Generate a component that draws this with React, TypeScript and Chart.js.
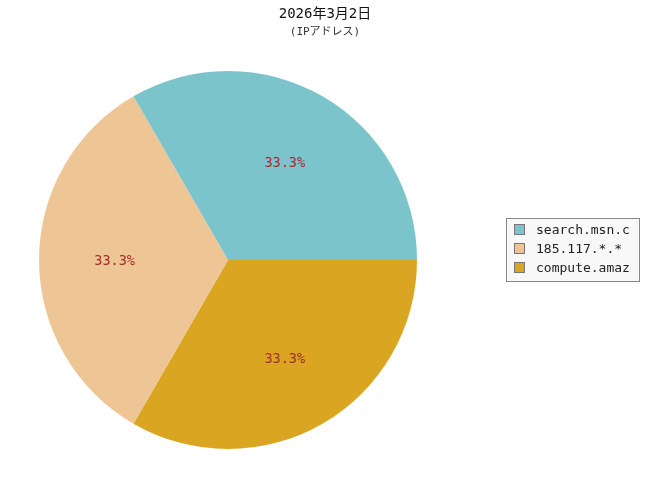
import React, { useEffect, useRef } from 'react';
import { Chart, registerables, layouts } from 'chart.js';

Chart.register(...registerables);

const TITLE = '2026年3月2日';
const SUBTITLE = '(IPアドレス)';
const CATEGORIES = ['search.msn.c', '185.117.*.*', 'compute.amaz'];
const VALUES = [1, 1, 1];
const COLORS = ['#7bc4cc', '#eec695', '#daa520'];

const FONT = '"DejaVu Sans Mono", "Noto Sans CJK JP", monospace';
const LEGEND_W = 194;

function drawLegend(chart: any, box: any) {
  const ctx = chart.ctx as CanvasRenderingContext2D;
  const fx = Math.round(box.left + 50);
  const fw = 134;
  const rowH = 19;
  const fh = 64;
  const fy = Math.round(chart.height / 2 - fh / 2);
  ctx.save();
  ctx.fillStyle = '#f8f8f8';
  ctx.fillRect(fx, fy, fw, fh);
  ctx.strokeStyle = '#888888';
  ctx.lineWidth = 1;
  ctx.strokeRect(fx + 0.5, fy + 0.5, fw - 1, fh - 1);
  ctx.font = '13px ' + FONT;
  ctx.textBaseline = 'middle';
  ctx.textAlign = 'left';
  CATEGORIES.forEach((label, i) => {
    const cy = fy + 12 + i * rowH;
    ctx.fillStyle = COLORS[i];
    ctx.fillRect(fx + 8, cy - 6, 11, 11);
    ctx.strokeStyle = '#777777';
    ctx.strokeRect(fx + 8.5, cy - 5.5, 10, 10);
    ctx.fillStyle = '#222222';
    ctx.fillText(label, fx + 30, cy + 1);
  });
  ctx.restore();
}

const sideLegendPlugin = {
  id: 'sideLegend',
  beforeInit(chart: any) {
    const box: any = {
      position: 'right',
      weight: 1000,
      fullSize: true,
      options: { display: true },
      left: 0,
      top: 0,
      right: 0,
      bottom: 0,
      width: 0,
      height: 0,
      isHorizontal() {
        return false;
      },
      update(maxWidth: number, maxHeight: number) {
        this.width = LEGEND_W;
        this.height = maxHeight;
      },
      draw() {
        drawLegend(chart, this);
      },
    };
    layouts.addBox(chart, box);
  },
};

const pctLabelPlugin = {
  id: 'pctLabels',
  afterDatasetsDraw(chart: any) {
    const ctx = chart.ctx as CanvasRenderingContext2D;
    const meta = chart.getDatasetMeta(0);
    const data = chart.data.datasets[0].data as number[];
    const total = data.reduce((a, b) => a + b, 0);
    ctx.save();
    ctx.font = '13.5px ' + FONT;
    ctx.fillStyle = '#a52a2a';
    ctx.textAlign = 'center';
    ctx.textBaseline = 'middle';
    meta.data.forEach((arc: any, i: number) => {
      const p = arc.getProps(['x', 'y', 'startAngle', 'endAngle', 'outerRadius'], true);
      const mid = (p.startAngle + p.endAngle) / 2;
      const r = p.outerRadius * 0.6;
      const txt = ((data[i] / total) * 100).toFixed(1) + '%';
      ctx.fillText(txt, p.x + Math.cos(mid) * r, p.y + Math.sin(mid) * r + 1.5);
    });
    ctx.restore();
  },
};

export default function App() {
  const ref = useRef<HTMLCanvasElement>(null);
  useEffect(() => {
    if (!ref.current) return;
    // drawn clockwise in Chart.js; reference goes counter-clockwise from 3 o'clock
    const labels = [...CATEGORIES].reverse();
    const values = [...VALUES].reverse();
    const colors = [...COLORS].reverse();
    const chart = new Chart(ref.current, {
      type: 'pie',
      data: {
        labels,
        datasets: [
          {
            data: values,
            backgroundColor: colors,
            borderWidth: 0,
          },
        ],
      },
      options: {
        animation: false,
        responsive: true,
        maintainAspectRatio: false,
        rotation: 90,
        layout: { padding: { left: 0, right: 0, top: 0, bottom: 51 } },
        plugins: {
          legend: { display: false },
          tooltip: { enabled: false },
          title: {
            display: true,
            text: TITLE,
            color: '#111111',
            font: { family: FONT, size: 14, weight: 'normal' },
            padding: { top: 6, bottom: 2 },
          },
          subtitle: {
            display: true,
            text: SUBTITLE,
            color: '#333333',
            font: { family: FONT, size: 11, weight: 'normal' },
            padding: { top: 1, bottom: 32 },
          },
        },
      },
      plugins: [sideLegendPlugin, pctLabelPlugin],
    } as any);
    return () => chart.destroy();
  }, []);
  return (
    <div style={{ position: 'absolute', left: 0, top: 0, width: 650, height: 500, background: '#ffffff' }}>
      <canvas ref={ref} />
    </div>
  );
}
